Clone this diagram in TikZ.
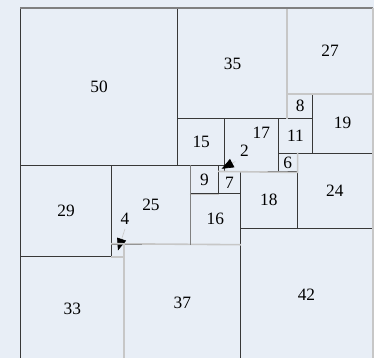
\documentclass[tikz,border=0pt]{standalone}
\usepackage{fontspec}
\setmainfont{Liberation Serif}
\usetikzlibrary{arrows.meta}
\definecolor{paper}{RGB}{232,238,246}

\begin{document}
\begin{tikzpicture}[
  x=2.357pt, y=-2.357pt,
  every node/.style={font=\fontsize{13}{15}\selectfont},
  sq/.style={rectangle, draw=black!78, line width=0.75pt, inner sep=0pt,
    anchor=north west, minimum size=#1*2.357pt},
  lite/.style={draw=black!22, line width=1.2pt},
  midline/.style={draw=black!50, line width=0.9pt},
  ptr/.style={-{Triangle[length=9pt, width=7pt, color=black]}, black!20, line width=0.5pt}
]
\useasboundingbox (-6.364,-2.545) rectangle (112.64,111.36);
\fill[paper] (-6.364,-2.545) rectangle (112.64,111.36);

% ===== TOP ROW =====
\node[sq=50] (s50) at (0,0) {50};
\node[sq=35] (s35) at (50,0) {35};
\node[sq=27] (s27) at (85,0) {27};
\node[sq=8] (s8) at (85,27) {8};
\node[sq=19] (s19) at (93,27) {19};

% ===== MIDDLE =====
\node[sq=15] (s15) at (50,35) {15};
\node[sq=17] (s17) at (65,35) {};
\node[sq=11] (s11) at (82,35) {11};
\node[sq=6] (s6) at (82,46) {6};
\node[sq=24] (s24) at (88,46) {24};
\node[sq=29] (s29) at (0,50) {29};
\node[sq=25] (s25) at (29,50) {25};
\node[sq=9] (s9) at (54,50) {9};
\node[sq=2] (s2) at (63,50) {};
\node[sq=7] (s7) at (63,52) {7};
\node[sq=18] (s18) at (70,52) {18};
\node[sq=16] (s16) at (54,59) {16};

% ===== BOTTOM ROW =====
\node[sq=4] (s4) at (29,75) {};
\node[sq=33] (s33) at (0,79) {33};
\node[sq=37] (s37) at (33,75) {37};
\node[sq=42] (s42) at (70,70) {42};

% labels placed off-centre
\node (l17) at (76.8,39.8) {17};
\node (l2) at (71.4,45.5) {2};
\node (l4) at (33.4,67.0) {4};
\draw[ptr] (l2.south west) -- (s2.center);
\draw[ptr] (l4.south) -- (s4.center);

% ===== LIGHT / MEDIUM EDGES =====
\draw[lite] (s27.north west) -- (s8.south west);
\draw[lite] (s27.south west) -- (s27.south east);
\draw[lite] (s7.north west) -- (s6.south east) -- (s6.north east);
\draw[lite] (s9.south west) -- (s9.south east);
\draw[lite] (s4.north west) -- (s16.south east);
\draw[lite] (s4.south west) -- (s4.south east);
\draw[lite] (s37.north west) -- (s37.south west);
\draw[midline] (s25.north east) -- (s25.south east);
\draw[midline] (s50.north west) -- (s27.north east);
\draw[lite, line width=1.6pt] (s27.north east) -- (s42.south east);
\end{tikzpicture}
\end{document}
